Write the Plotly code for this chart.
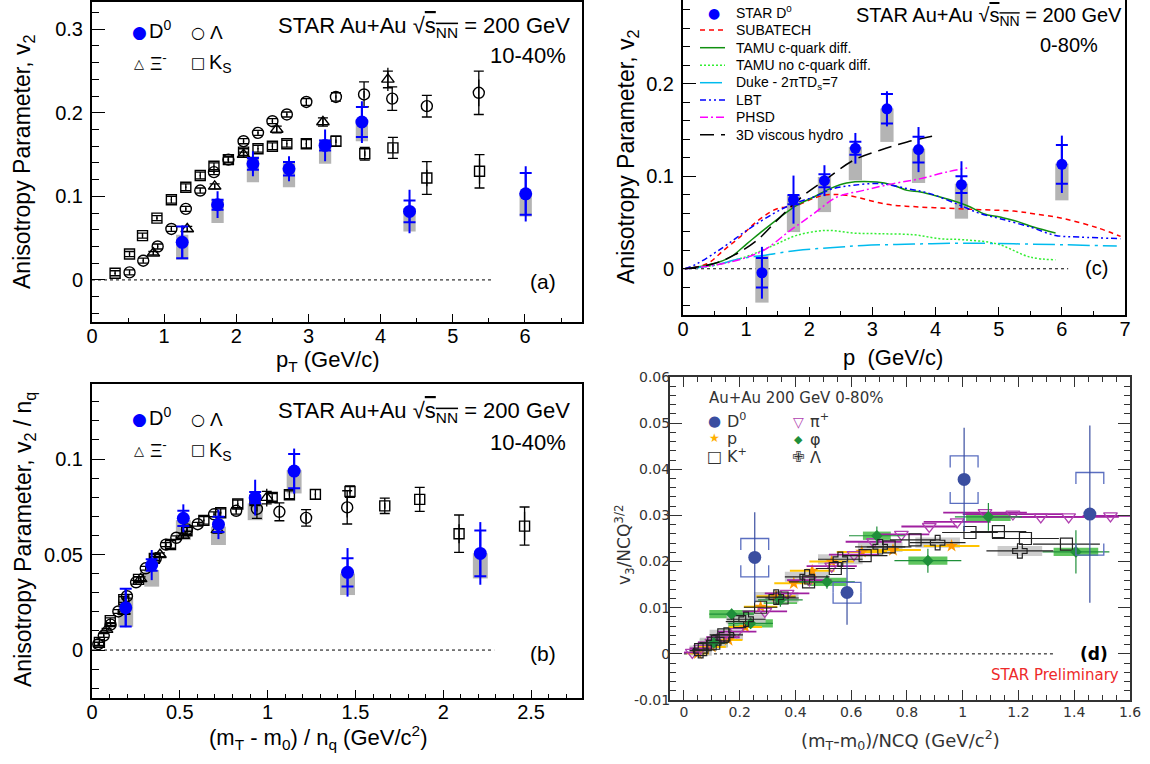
import plotly.graph_objects as go

W, H = 1150, 764
FONT = "Liberation Sans, Arial, sans-serif"
DFONT = "DejaVu Sans, sans-serif"
BLUE = "#0000ff"
GREY = "#b4b4b4"

# ======================= Panel (a): v2 vs pT (10-40%) =======================
a_d0_pt = [1.25, 1.74, 2.23, 2.73, 3.23, 3.74, 4.40, 6.01]
a_d0_v2 = [0.045, 0.090, 0.139, 0.133, 0.161, 0.189, 0.082, 0.103]
a_d0_stat = [0.020, 0.016, 0.015, 0.015, 0.019, 0.025, 0.026, 0.033]
a_d0_sys = [0.019, 0.006, 0.007, 0.008, 0.006, 0.018, 0.013, 0.025]
a_d0_nf_lo = [0.024, 0.068, 0.117, 0.111, 0.139, 0.166, 0.058, 0.076]
a_d0_nf_hi = [0.054, 0.096, 0.148, 0.140, 0.168, 0.192, 0.086, 0.104]

a_ks_pt = [0.32, 0.52, 0.70, 0.90, 1.10, 1.30, 1.50, 1.69, 1.89, 2.10, 2.30, 2.50, 2.70, 2.97, 3.38, 3.78, 4.17, 4.64, 5.37]
a_ks_v2 = [0.008, 0.031, 0.053, 0.074, 0.096, 0.111, 0.125, 0.136, 0.144, 0.153, 0.157, 0.160, 0.163, 0.163, 0.166, 0.151, 0.158, 0.122, 0.130]
a_ks_stat = [0.001, 0.001, 0.001, 0.001, 0.001, 0.001, 0.001, 0.001, 0.001, 0.001, 0.001, 0.001, 0.001, 0.001, 0.002, 0.003, 0.005, 0.010, 0.015]
a_ks_sys = [0.003, 0.003, 0.003, 0.003, 0.004, 0.004, 0.004, 0.004, 0.004, 0.004, 0.004, 0.004, 0.004, 0.005, 0.006, 0.0075, 0.0125, 0.0195, 0.020]

a_la_pt = [0.52, 0.71, 0.91, 1.10, 1.30, 1.50, 1.69, 1.89, 2.10, 2.30, 2.50, 2.70, 2.97, 3.38, 3.77, 4.16, 4.64, 5.36]
a_la_v2 = [0.009, 0.023, 0.040, 0.061, 0.085, 0.107, 0.129, 0.144, 0.166, 0.176, 0.190, 0.198, 0.213, 0.219, 0.222, 0.217, 0.208, 0.224]
a_la_stat = [0.001, 0.001, 0.001, 0.001, 0.001, 0.001, 0.001, 0.001, 0.001, 0.001, 0.001, 0.001, 0.001, 0.002, 0.004, 0.005, 0.006, 0.016]
a_la_sys = [0.003, 0.003, 0.003, 0.003, 0.003, 0.003, 0.003, 0.003, 0.003, 0.003, 0.003, 0.003, 0.004, 0.005, 0.015, 0.014, 0.013, 0.026]

a_xi_pt = [0.85, 1.32, 1.70, 2.10, 2.56, 3.20, 4.10]
a_xi_v2 = [0.032, 0.061, 0.112, 0.150, 0.180, 0.189, 0.240]
a_xi_stat = [0.002, 0.003, 0.003, 0.003, 0.004, 0.005, 0.014]
a_xi_sys = [0.002, 0.003, 0.003, 0.003, 0.004, 0.005, 0.010]

# ============== Panel (b): v2/nq vs (mT-m0)/nq (10-40%) ==============
b_d0_x = [0.192, 0.340, 0.520, 0.720, 0.929, 1.151, 1.455, 2.211]
b_d0_y = [0.0222, 0.0445, 0.0690, 0.0658, 0.0798, 0.0937, 0.0407, 0.0506]
b_d0_stat = [0.0102, 0.0079, 0.0073, 0.0077, 0.0094, 0.0118, 0.0127, 0.0164]
b_d0_sys = [0.0099, 0.0030, 0.0040, 0.0040, 0.0030, 0.0090, 0.0074, 0.0120]
b_d0_nf_lo = [0.0122, 0.0332, 0.0576, 0.0550, 0.0680, 0.0820, 0.0288, 0.0375]
b_d0_nf_hi = [0.0270, 0.0419, 0.0680, 0.0646, 0.0768, 0.0942, 0.0401, 0.0506]

b_ks_x = [0.042, 0.104, 0.181, 0.265, 0.355, 0.447, 0.541, 0.637, 0.733, 0.830, 0.928, 1.026, 1.124, 1.272, 1.469, 1.667, 1.866, 2.090, 2.463]
b_ks_y = [0.0040, 0.0154, 0.0264, 0.0370, 0.0480, 0.0553, 0.0625, 0.0679, 0.0719, 0.0765, 0.0783, 0.0799, 0.0813, 0.0815, 0.0830, 0.0755, 0.0789, 0.0609, 0.0649]
b_ks_stat = [0.0005, 0.0005, 0.0005, 0.0005, 0.0005, 0.0005, 0.0005, 0.0005, 0.0005, 0.0005, 0.0005, 0.0005, 0.0005, 0.0005, 0.001, 0.0015, 0.0025, 0.005, 0.0075]
b_ks_sys = [0.0015, 0.0015, 0.0015, 0.0015, 0.002, 0.002, 0.002, 0.002, 0.002, 0.002, 0.002, 0.002, 0.002, 0.0025, 0.003, 0.004, 0.0063, 0.0098, 0.010]

b_la_x = [0.036, 0.067, 0.106, 0.150, 0.199, 0.251, 0.306, 0.363, 0.421, 0.480, 0.541, 0.602, 0.695, 0.821, 0.939, 1.067, 1.219, 1.453]
b_la_y = [0.0031, 0.0076, 0.0133, 0.0202, 0.0282, 0.0355, 0.0428, 0.0479, 0.0552, 0.0588, 0.0632, 0.0659, 0.0711, 0.0729, 0.0739, 0.0724, 0.0692, 0.0747]
b_la_stat = [0.0004, 0.0004, 0.0004, 0.0004, 0.0004, 0.0004, 0.0004, 0.0004, 0.0004, 0.0004, 0.0004, 0.0004, 0.0004, 0.0007, 0.0013, 0.0017, 0.002, 0.0053]
b_la_sys = [0.001, 0.001, 0.001, 0.001, 0.001, 0.001, 0.001, 0.001, 0.001, 0.001, 0.001, 0.001, 0.0013, 0.0017, 0.005, 0.0047, 0.0043, 0.0087]

b_xi_x = [0.083, 0.182, 0.277, 0.387, 0.520, 0.714, 0.995]
b_xi_y = [0.0107, 0.0202, 0.0373, 0.0499, 0.0599, 0.0629, 0.0798]
b_xi_stat = [0.0007, 0.001, 0.001, 0.001, 0.0013, 0.0017, 0.0047]
b_xi_sys = [0.0007, 0.001, 0.001, 0.001, 0.0013, 0.0017, 0.0033]

# ======================= Panel (c): v2 vs p (0-80%) =======================
c_d0_p = [1.25, 1.75, 2.24, 2.73, 3.23, 3.73, 4.41, 6.00]
c_d0_v2 = [-0.0043, 0.0748, 0.0953, 0.1303, 0.1730, 0.1289, 0.0910, 0.1130]
c_d0_stat = [0.028, 0.026, 0.0167, 0.0166, 0.019, 0.0244, 0.0253, 0.031]
c_d0_sys = [0.016, 0.005, 0.007, 0.007, 0.016, 0.014, 0.009, 0.021]
c_d0_nf_lo = [-0.0366, 0.0397, 0.0613, 0.0957, 0.1372, 0.0928, 0.0542, 0.0740]
c_d0_nf_hi = [0.0144, 0.0794, 0.0993, 0.1318, 0.1733, 0.1300, 0.0921, 0.1138]

subatech_p = [0.03, 0.38, 0.64, 0.90, 1.19, 1.49, 1.75, 2.22, 2.59, 3.23, 3.76, 4.34, 4.71, 5.24, 5.55, 6.03, 6.56, 6.93]
subatech_v2 = [0.0, 0.0054, 0.0198, 0.0342, 0.0523, 0.0650, 0.0675, 0.0794, 0.0794, 0.0697, 0.0668, 0.0650, 0.0639, 0.0624, 0.0596, 0.0542, 0.0444, 0.0350]
tamu_p = [0.03, 0.48, 0.75, 1.01, 1.27, 1.54, 1.80, 2.07, 2.33, 2.59, 3.07, 3.33, 3.55, 3.76, 4.07, 4.34, 4.55, 4.76, 5.02, 5.24, 5.55, 5.90]
tamu_v2 = [0.0, 0.0054, 0.0126, 0.0270, 0.0415, 0.0559, 0.0686, 0.0776, 0.0867, 0.0928, 0.0938, 0.0903, 0.0848, 0.0830, 0.0776, 0.0722, 0.0668, 0.0596, 0.0559, 0.0523, 0.0451, 0.0386]
tamu_nd_p = [0.03, 0.48, 1.01, 1.43, 1.80, 2.28, 2.70, 3.12, 3.65, 4.07, 4.44, 4.97, 5.50, 5.90]
tamu_nd_v2 = [0.0, 0.0036, 0.0133, 0.0252, 0.0361, 0.0415, 0.0386, 0.0379, 0.0368, 0.0325, 0.0314, 0.0270, 0.0126, 0.0097]
duke_p = [0.03, 0.48, 0.90, 1.27, 1.80, 2.33, 2.86, 3.65, 4.44, 5.24, 6.03, 6.87]
duke_v2 = [0.0, 0.0036, 0.0108, 0.0144, 0.0198, 0.0227, 0.0252, 0.0267, 0.0277, 0.0270, 0.0260, 0.0245]
lbt_p = [0.03, 0.22, 0.64, 1.01, 1.43, 1.75, 2.07, 2.38, 2.70, 3.12, 3.55, 3.91, 4.39, 4.71, 5.02, 5.50, 5.90, 6.29, 6.93]
lbt_v2 = [0.0, 0.0054, 0.0234, 0.0415, 0.0596, 0.0704, 0.0776, 0.0867, 0.0903, 0.0921, 0.0867, 0.0813, 0.0686, 0.0596, 0.0542, 0.0451, 0.0361, 0.0343, 0.0325]
phsd_p = [0.03, 0.75, 1.27, 1.70, 2.07, 2.44, 2.86, 3.33, 3.76, 4.18, 4.50]
phsd_v2 = [0.0, 0.0072, 0.0198, 0.0415, 0.0596, 0.0776, 0.0848, 0.0921, 0.0975, 0.1047, 0.1090]
hydro_p = [0.03, 0.48, 0.80, 1.17, 1.54, 1.91, 2.28, 2.70, 3.12, 3.55, 4.02]
hydro_v2 = [0.0, 0.0054, 0.0144, 0.0307, 0.0559, 0.0794, 0.0975, 0.1173, 0.1282, 0.1372, 0.1444]

# ============ Panel (d): v3/NCQ^{3/2} vs (mT-m0)/NCQ (0-80%) ============
d_d0_x = [0.254, 0.585, 1.005, 1.456]
d_d0_y = [0.0209, 0.0133, 0.0378, 0.0303]
d_d0_stat = [0.0098, 0.0070, 0.0112, 0.0192]
d_d0_sys_lo = [0.0167, 0.0110, 0.0326, 0.0214]
d_d0_sys_hi = [0.0250, 0.0155, 0.0429, 0.0393]

d_pi_x = [0.03, 0.06, 0.10, 0.14, 0.19, 0.29, 0.37, 0.45, 0.53, 0.61, 0.68, 0.78, 0.88, 0.98, 1.08, 1.18, 1.28, 1.38, 1.53]
d_pi_y = [0.0003, 0.0012, 0.0025, 0.0036, 0.0048, 0.0092, 0.0131, 0.0160, 0.0190, 0.0215, 0.0243, 0.0259, 0.0276, 0.0286, 0.0306, 0.0303, 0.0297, 0.0297, 0.0299]
d_pi_xerr = [0.03, 0.04, 0.05, 0.06, 0.07, 0.08, 0.08, 0.08, 0.09, 0.09, 0.10, 0.10, 0.10, 0.12, 0.15, 0.18, 0.18, 0.18, 0.10]

d_k_x = [0.06, 0.107, 0.143, 0.20, 0.275, 0.352, 0.447, 0.543, 0.65, 0.736, 0.829, 1.026, 1.128, 1.225, 1.372]
d_k_y = [0.0009, 0.0023, 0.0041, 0.0070, 0.0101, 0.0121, 0.0156, 0.0185, 0.0213, 0.0232, 0.0247, 0.0263, 0.0265, 0.0250, 0.0238]
d_k_xerr = [0.03, 0.04, 0.04, 0.05, 0.06, 0.06, 0.07, 0.07, 0.08, 0.08, 0.09, 0.10, 0.10, 0.12, 0.12]

d_p_x = [0.05, 0.10, 0.16, 0.22, 0.275, 0.33, 0.394, 0.46, 0.53, 0.638, 0.75, 0.96]
d_p_y = [0.0001, 0.0015, 0.0030, 0.0058, 0.0102, 0.0125, 0.0153, 0.0180, 0.0200, 0.0221, 0.0225, 0.0234]
d_p_xerr = [0.04, 0.05, 0.05, 0.06, 0.06, 0.07, 0.07, 0.08, 0.08, 0.09, 0.10, 0.10]

d_phi_x = [0.107, 0.171, 0.239, 0.346, 0.513, 0.692, 0.875, 1.092, 1.406]
d_phi_y = [0.0024, 0.0086, 0.0066, 0.0117, 0.0156, 0.0256, 0.0202, 0.0297, 0.0221]
d_phi_yerr = [0.0008, 0.0012, 0.0012, 0.0015, 0.0015, 0.0020, 0.0026, 0.0030, 0.0047]
d_phi_xerr = [0.05, 0.08, 0.08, 0.08, 0.10, 0.10, 0.12, 0.12, 0.12]
d_phi_boxw = [0.10, 0.16, 0.16, 0.12, 0.14, 0.10, 0.14, 0.16, 0.16]

d_la_x = [0.06, 0.107, 0.152, 0.223, 0.331, 0.442, 0.561, 0.704, 0.91, 1.205]
d_la_y = [0.0007, 0.0024, 0.0041, 0.0075, 0.0123, 0.0167, 0.0205, 0.0232, 0.0241, 0.0223]
d_la_xerr = [0.04, 0.05, 0.06, 0.07, 0.07, 0.08, 0.08, 0.09, 0.10, 0.12]
d_la_boxw = [0.08, 0.10, 0.12, 0.14, 0.16, 0.16, 0.16, 0.16, 0.16, 0.16]

d_yticks = [-0.01, 0, 0.01, 0.02, 0.03, 0.04, 0.05, 0.06]
d_yticktext = ["-0.01", "0", "0.01", "0.02", "0.03", "0.04", "0.05", "0.06"]

# ---------------------------------------------------------------------------
fig = go.Figure()


def frame_px(x0, x1, y0, y1):
    return [x0 / W, x1 / W], [1 - y1 / H, 1 - y0 / H]


dom_a = frame_px(92, 582, 1.7, 321.7)
dom_b = frame_px(92, 582, 384, 698)
dom_c = frame_px(683, 1125, 0, 315)
dom_d = frame_px(670, 1130, 377, 700)


def nobox(x, lo, hi, width, color, xa, ya, opacity=1.0):
    fig.add_trace(go.Bar(x=x, y=[h - l for h, l in zip(hi, lo)], base=lo, width=width,
                         marker=dict(color=color, line=dict(width=0)), opacity=opacity,
                         xaxis=xa, yaxis=ya, showlegend=False, hoverinfo="skip"))


def add_d0(xa, ya, x, y, stat, sys, lo, hi, boxw, size, capw):
    nobox(x, lo, hi, boxw, GREY, xa, ya)
    fig.add_trace(go.Scatter(x=x, y=y, mode="markers", marker=dict(size=2, opacity=0),
                             error_y=dict(type="data", array=sys, color=BLUE, thickness=2, width=capw),
                             xaxis=xa, yaxis=ya, showlegend=False, hoverinfo="skip"))
    fig.add_trace(go.Scatter(x=x, y=y, mode="markers", marker=dict(size=size, color=BLUE),
                             error_y=dict(type="data", array=stat, color=BLUE, thickness=2, width=0),
                             xaxis=xa, yaxis=ya, showlegend=False, name="D0"))


def add_open(xa, ya, x, y, stat, sys, symbol, size, name):
    fig.add_trace(go.Scatter(x=x, y=y, mode="markers", marker=dict(size=2, opacity=0),
                             error_y=dict(type="data", array=sys, color="black", thickness=1.3, width=5),
                             xaxis=xa, yaxis=ya, showlegend=False, hoverinfo="skip"))
    fig.add_trace(go.Scatter(x=x, y=y, mode="markers",
                             marker=dict(symbol=symbol, size=size, color="black", line=dict(width=1.4, color="black")),
                             error_y=dict(type="data", array=stat, color="black", thickness=1.3, width=0),
                             xaxis=xa, yaxis=ya, showlegend=False, name=name))


# ----- (a)
add_open("x", "y", a_ks_pt, a_ks_v2, a_ks_stat, a_ks_sys, "square-open", 10, "Ks")
add_open("x", "y", a_la_pt, a_la_v2, a_la_stat, a_la_sys, "circle-open", 11, "Lambda")
add_open("x", "y", a_xi_pt, a_xi_v2, a_xi_stat, a_xi_sys, "triangle-up-open", 11, "Xi")
add_d0("x", "y", a_d0_pt, a_d0_v2, a_d0_stat, a_d0_sys, a_d0_nf_lo, a_d0_nf_hi, 0.17, 13, 6)

# ----- (b)
add_open("x2", "y2", b_ks_x, b_ks_y, b_ks_stat, b_ks_sys, "square-open", 10, "Ks")
add_open("x2", "y2", b_la_x, b_la_y, b_la_stat, b_la_sys, "circle-open", 11, "Lambda")
add_open("x2", "y2", b_xi_x, b_xi_y, b_xi_stat, b_xi_sys, "triangle-up-open", 11, "Xi")
add_d0("x2", "y2", b_d0_x, b_d0_y, b_d0_stat, b_d0_sys, b_d0_nf_lo, b_d0_nf_hi, 0.085, 13, 6)

# ----- (c)
nobox(c_d0_p, c_d0_nf_lo, c_d0_nf_hi, 0.21, GREY, "x3", "y3")
models = [
    (subatech_p, subatech_v2, "#ff0000", "5px,4px", "SUBATECH"),
    (tamu_p, tamu_v2, "#109010", "solid", "TAMU c-quark diff."),
    (tamu_nd_p, tamu_nd_v2, "#33ee33", "2px,2px", "TAMU no c-quark diff."),
    (duke_p, duke_v2, "#00bbee", "22px,5px,3px,5px", "Duke"),
    (lbt_p, lbt_v2, "#0000ff", "6px,3px,2px,3px,2px,3px", "LBT"),
    (phsd_p, phsd_v2, "#ff00ff", "8px,3px,2px,3px", "PHSD"),
    (hydro_p, hydro_v2, "#000000", "14px,7px", "3D viscous hydro"),
]
for mx, my, col, dash, nm in models:
    fig.add_trace(go.Scatter(x=mx, y=my, mode="lines", line=dict(color=col, width=1.5, dash=dash, shape="spline"),
                             xaxis="x3", yaxis="y3", showlegend=False, name=nm))
fig.add_trace(go.Scatter(x=c_d0_p, y=c_d0_v2, mode="markers", marker=dict(size=2, opacity=0),
                         error_y=dict(type="data", array=c_d0_sys, color=BLUE, thickness=2, width=6),
                         xaxis="x3", yaxis="y3", showlegend=False, hoverinfo="skip"))
fig.add_trace(go.Scatter(x=c_d0_p, y=c_d0_v2, mode="markers", marker=dict(size=11, color=BLUE),
                         error_y=dict(type="data", array=c_d0_stat, color=BLUE, thickness=2, width=0),
                         xaxis="x3", yaxis="y3", showlegend=False, name="STAR D0"))

# ----- (d)
nobox(d_phi_x, [v - 0.0009 for v in d_phi_y], [v + 0.0009 for v in d_phi_y], d_phi_boxw, "#44bb44", "x4", "y4", 0.85)
nobox(d_la_x, [v - 0.0011 for v in d_la_y], [v + 0.0011 for v in d_la_y], d_la_boxw, "#c8c8c8", "x4", "y4", 0.9)
fig.add_trace(go.Scatter(x=d_p_x, y=d_p_y, mode="markers",
                         marker=dict(symbol="star", size=10, color="#ff9900"),
                         error_x=dict(type="data", array=d_p_xerr, color="#ffc400", thickness=2, width=0),
                         xaxis="x4", yaxis="y4", showlegend=False, name="p"))
fig.add_trace(go.Scatter(x=d_pi_x, y=d_pi_y, mode="markers",
                         marker=dict(symbol="triangle-down-open", size=12, color="#b040b0", line=dict(width=1.3)),
                         error_x=dict(type="data", array=d_pi_xerr, color="#a020a0", thickness=1.8, width=0),
                         xaxis="x4", yaxis="y4", showlegend=False, name="pi+"))
fig.add_trace(go.Scatter(x=d_k_x, y=d_k_y, mode="markers",
                         marker=dict(symbol="square-open", size=12, color="#222222", line=dict(width=1.2)),
                         error_x=dict(type="data", array=d_k_xerr, color="#222222", thickness=1.2, width=0),
                         xaxis="x4", yaxis="y4", showlegend=False, name="K+"))
fig.add_trace(go.Scatter(x=d_phi_x, y=d_phi_y, mode="markers",
                         marker=dict(symbol="diamond", size=9, color="#1f8f3a"),
                         error_x=dict(type="data", array=d_phi_xerr, color="#1f8f3a", thickness=1.2, width=0),
                         error_y=dict(type="data", array=d_phi_yerr, color="#1f8f3a", thickness=1.2, width=0),
                         xaxis="x4", yaxis="y4", showlegend=False, name="phi"))
fig.add_trace(go.Scatter(x=d_la_x, y=d_la_y, mode="markers",
                         marker=dict(symbol="cross-open", size=12, color="#222222", line=dict(width=1.2)),
                         error_x=dict(type="data", array=d_la_xerr, color="#222222", thickness=1.2, width=0),
                         xaxis="x4", yaxis="y4", showlegend=False, name="Lambda"))
# D0 brackets (systematic)
BW, BT = 0.05, 0.0025
bx, by = [], []
for x, lo, hi in zip(d_d0_x, d_d0_sys_lo, d_d0_sys_hi):
    t = min(BT, (hi - lo) / 2)
    bx += [x - BW, x - BW, x + BW, x + BW, None, x - BW, x - BW, x + BW, x + BW, None]
    by += [hi - t, hi, hi, hi - t, None, lo + t, lo, lo, lo + t, None]
fig.add_trace(go.Scatter(x=bx, y=by, mode="lines", line=dict(color="#5a6ec0", width=1.3),
                         xaxis="x4", yaxis="y4", showlegend=False, hoverinfo="skip"))
fig.add_trace(go.Scatter(x=d_d0_x, y=d_d0_y, mode="markers", marker=dict(size=13, color="#3a4ea0"),
                         error_y=dict(type="data", array=d_d0_stat, color="#3a4ea0", thickness=1.2, width=0),
                         xaxis="x4", yaxis="y4", showlegend=False, name="D0"))


# ---------------------------------------------------------------------------
def rax(domain, rng, anchor, dtick, mdtick, tlen, mlen, font=FONT, fsize=20, color="black",
        lw=2, mirror=True, standoff=0, tickvals=None, ticktext=None):
    d = dict(domain=domain, range=rng, anchor=anchor, tick0=0, dtick=dtick, ticks="inside",
             ticklen=tlen, tickwidth=1.3, tickcolor=color,
             minor=dict(tick0=0, dtick=mdtick, ticks="inside", ticklen=mlen, tickwidth=1.3,
                        tickcolor=color, showgrid=False),
             showline=True, linecolor=color, linewidth=lw, mirror=mirror, showgrid=False, zeroline=False,
             tickfont=dict(family=font, size=fsize, color=color), ticklabelstandoff=standoff,
             fixedrange=True, automargin=False)
    if tickvals is not None:
        d.update(tickmode="array", tickvals=tickvals, ticktext=ticktext)
    return d


fig.update_layout(
    width=W, height=H, margin=dict(l=0, r=0, t=0, b=0),
    paper_bgcolor="white", plot_bgcolor="white", barmode="overlay", showlegend=False,
    xaxis=rax(dom_a[0], [0, 6.79], "y", 1, 0.5, 8, 4, standoff=-5),
    yaxis=rax(dom_a[1], [-0.05, 0.333], "x", 0.1, 0.02, 13, 7, standoff=3),
    xaxis2=rax(dom_b[0], [0, 2.79], "y2", 0.5, 0.1, 8, 4, standoff=-5),
    yaxis2=rax(dom_b[1], [-0.0251, 0.1393], "x2", 0.05, 0.01, 13, 7, standoff=3),
    xaxis3=rax(dom_c[0], [0, 7.0], "y3", 1, 0.5, 8, 4, standoff=-5),
    yaxis3=rax(dom_c[1], [-0.05, 0.2907], "x3", 0.1, 0.02, 13, 7, standoff=3),
    xaxis4=rax(dom_d[0], [-0.05, 1.6], "y4", 0.2, 0.05, 10, 5, font=DFONT, fsize=14, color="#333333",
               mirror="allticks", standoff=-2),
    yaxis4=rax(dom_d[1], [-0.01, 0.06], "x4", 0.01, 0.002, 12, 6, font=DFONT, fsize=14, color="#333333",
               mirror="allticks", standoff=-5, tickvals=d_yticks, ticktext=d_yticktext),
)

# zero reference lines
zero_lines = [("x", "y", 0, 5.55), ("x2", "y2", 0, 2.29), ("x3", "y3", 0, 6.1), ("x4", "y4", 0, 1.33)]
shapes = []
for xr, yr, x0, x1 in zero_lines:
    shapes.append(dict(type="line", xref=xr, yref=yr, x0=x0, x1=x1, y0=0, y1=0,
                       line=dict(color="black", width=1, dash="3px,3px"), layer="below"))

# legend samples for (c)
leg_c_rows = [30, 47.7, 65.3, 82.7, 100, 117.3, 134.7]
for (mx, my, col, dash, nm), ry in zip(models, leg_c_rows):
    shapes.append(dict(type="line", xref="paper", yref="paper", x0=700 / W, x1=725 / W,
                       y0=1 - ry / H, y1=1 - ry / H, line=dict(color=col, width=1.5, dash=dash)))
fig.update_layout(shapes=shapes)

ann = []


def txt(x, y, s, size, xanchor="left", yanchor="middle", color="black", family=FONT, angle=0):
    ann.append(dict(x=x / W, y=1 - y / H, xref="paper", yref="paper", text=s, showarrow=False,
                    xanchor=xanchor, yanchor=yanchor, textangle=angle,
                    font=dict(size=size, color=color, family=family)))


SQ = "√<span style='text-decoration:overline'>s<sub>NN</sub></span>"
# (a)
txt(572, 27, "STAR Au+Au " + SQ + " = 200 GeV", 22, "right")
txt(568, 55, "10-40%", 22, "right")
txt(543, 281, "(a)", 21, "center")
txt(139, 32, "●", 17, "center", color=BLUE, family=DFONT)
txt(147, 30, "D<sup>0</sup>", 20)
txt(198, 32, "○", 16, "center", family=DFONT)
txt(208, 32, "Λ", 19)
txt(139, 63, "△", 13, "center", family=DFONT)
txt(148, 62, "Ξ<sup>-</sup>", 19)
txt(198, 63, "□", 15, "center", family=DFONT)
txt(207, 64, "K<sub>S</sub>", 20)
txt(24, 162, "Anisotropy Parameter, v<sub>2</sub>", 23, "center", angle=-90)
txt(328, 361, "p<sub>T</sub> (GeV/c)", 22, "center")
# (b)
txt(572, 412, "STAR Au+Au " + SQ + " = 200 GeV", 22, "right")
txt(568, 442, "10-40%", 22, "right")
txt(543, 653, "(b)", 21, "center")
txt(139, 419, "●", 17, "center", color=BLUE, family=DFONT)
txt(147, 417, "D<sup>0</sup>", 20)
txt(198, 419, "○", 16, "center", family=DFONT)
txt(208, 419, "Λ", 19)
txt(139, 450, "△", 13, "center", family=DFONT)
txt(148, 449, "Ξ<sup>-</sup>", 19)
txt(198, 450, "□", 15, "center", family=DFONT)
txt(207, 451, "K<sub>S</sub>", 20)
txt(24, 540, "Anisotropy Parameter, v<sub>2</sub> / n<sub>q</sub>", 23, "center", angle=-90)
txt(318, 737, "(m<sub>T</sub> - m<sub>0</sub>) / n<sub>q</sub> (GeV/c<sup>2</sup>)", 22, "center")
# (c)
txt(1124, 17, "STAR Au+Au " + SQ + " = 200 GeV", 20, "right")
txt(1100, 45, "0-80%", 20, "right")
txt(1096, 268, "(c)", 20, "center")
txt(714, 13, "●", 14, "center", color=BLUE, family=DFONT)
txt(734, 12, "STAR D<sup>0</sup>", 14)
leg_c_text = ["SUBATECH", "TAMU c-quark diff.", "TAMU no c-quark diff.", "Duke - 2πTD<sub>s</sub>=7",
              "LBT", "PHSD", "3D viscous hydro"]
for s, ry in zip(leg_c_text, leg_c_rows):
    txt(734, ry, s, 14)
txt(628, 157, "Anisotropy Parameter, v<sub>2</sub>", 23, "center", angle=-90)
txt(893, 357, "p  (GeV/c)", 22, "center")
# (d)
txt(707, 398, "Au+Au 200 GeV 0-80%", 15, family=DFONT, color="#333333")
txt(714, 421, "●", 15, "center", color="#3a4ea0", family=DFONT)
txt(725, 420, "D<sup>0</sup>", 16, family=DFONT, color="#333333")
txt(714, 438, "★", 12, "center", color="#ffb000", family=DFONT)
txt(725, 438, "p", 16, family=DFONT, color="#333333")
txt(714, 456, "□", 16, "center", color="#333333", family=DFONT)
txt(725, 455, "K<sup>+</sup>", 16, family=DFONT, color="#333333")
txt(798, 422, "▽", 14, "center", color="#b040b0", family=DFONT)
txt(808, 420, "π<sup>+</sup>", 16, family=DFONT, color="#333333")
txt(798, 439, "◆", 11, "center", color="#1f8f3a", family=DFONT)
txt(808, 439, "φ", 16, family=DFONT, color="#333333")
txt(798, 457, "✙", 15, "center", color="#333333", family=DFONT)
txt(808, 457, "Λ", 16, family=DFONT, color="#333333")
txt(1094, 654, "<b>(d)</b>", 17, "center", family=DFONT)
txt(1121, 675, "STAR Preliminary", 15, "right", color="#ee2a2a", family=DFONT)
txt(624, 545, "v<sub>3</sub>/NCQ<sup>3/2</sup>", 17, "center", family=DFONT, color="#333333", angle=-90)
txt(900, 740, "(m<sub>T</sub>-m<sub>0</sub>)/NCQ (GeV/c<sup>2</sup>)", 18, "center", family=DFONT, color="#333333")

fig.update_layout(annotations=ann)
fig.write_html("out.html", config={"displayModeBar": False},
               post_script="document.body.style.margin='0';document.body.style.overflow='hidden';")
